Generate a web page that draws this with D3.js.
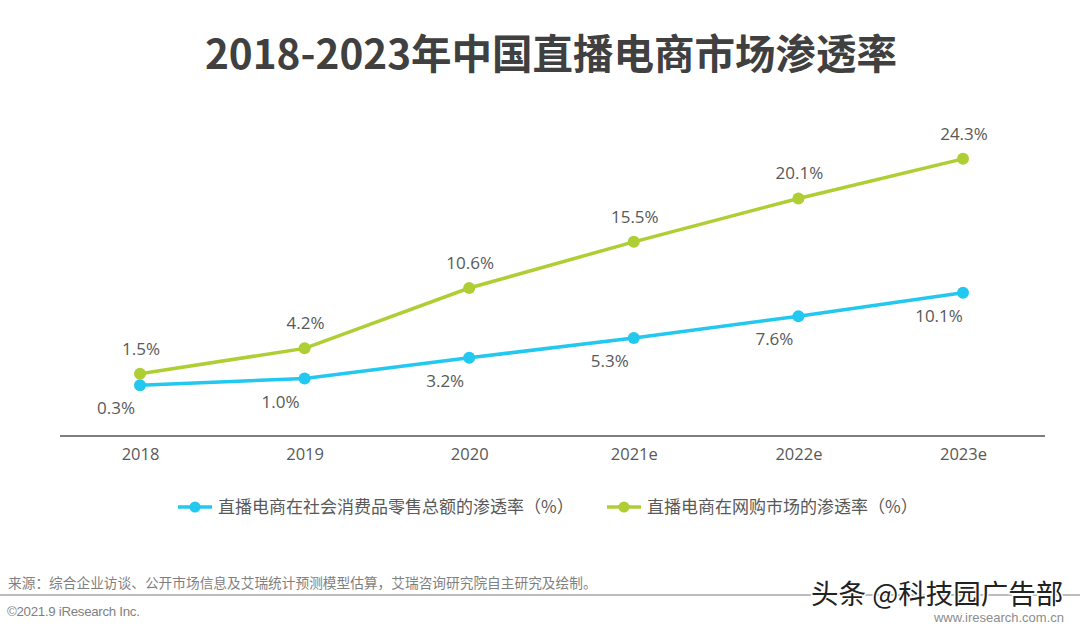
<!DOCTYPE html>
<html><head><meta charset="utf-8">
<script src="https://cdn.jsdelivr.net/npm/d3@7/dist/d3.min.js"></script>
<style>body{margin:0;background:#fff}svg{display:block}</style>
</head><body>
<svg id="c" width="1080" height="629"></svg>
<script>
const categories = ["2018","2019","2020","2021e","2022e","2023e"];
const seriesNames = ["直播电商在社会消费品零售总额的渗透率（%）","直播电商在网购市场的渗透率（%）"];
const retailShare = [0.3,1.0,3.2,5.3,7.6,10.1];
const onlineShare = [1.5,4.2,10.6,15.5,20.1,24.3];
const colors = ["#22c8ef","#aece34"];

const svg = d3.select("#c");
const font = "'Noto Sans CJK SC','Open Sans',sans-serif";

svg.append("text").attr("x",551).attr("y",69).attr("text-anchor","middle")
  .attr("font-family",font).attr("font-weight","bold").attr("font-size",40.5)
  .attr("fill","#404040").text("2018-2023年中国直播电商市场渗透率");

const x = d3.scalePoint().domain(categories).range([140,963]);
const y = d3.scaleLinear().domain([-5.2,27.4]).range([437,129.6]);

// axis
const ax = svg.append("g").attr("transform","translate(0,436)")
  .call(d3.axisBottom(x).tickSize(0).tickPadding(12));
ax.select(".domain").remove();
ax.append("line").attr("x1",60).attr("x2",1045).attr("stroke","#7f7f7f").attr("stroke-width",2);
ax.selectAll("text").attr("font-family","'Open Sans',sans-serif").attr("font-size",16.5).attr("fill","#595959");

const line = d3.line().x((d,i)=>x(categories[i])).y(d=>y(d));
const series = [retailShare, onlineShare];
series.forEach((s,k)=>{
  svg.append("path").datum(s).attr("d",line).attr("fill","none")
    .attr("stroke",colors[k]).attr("stroke-width",3.5);
  svg.selectAll(null).data(s).enter().append("circle")
    .attr("cx",(d,i)=>x(categories[i])).attr("cy",d=>y(d)).attr("r",6).attr("fill",colors[k]);
  svg.selectAll(null).data(s).enter().append("text")
    .attr("x",(d,i)=>x(categories[i]) + (k===0 ? -24 : 1))
    .attr("y",d=>y(d) + (k===0 ? 29 : -19))
    .attr("text-anchor","middle").attr("font-family","'Open Sans',sans-serif")
    .attr("font-size",17).attr("fill","#595959")
    .text(d=>d.toFixed(1)+"%");
});

// legend
const legX = [178,607];
seriesNames.forEach((n,k)=>{
  const g = svg.append("g").attr("transform",`translate(${legX[k]},507)`);
  g.append("line").attr("x1",0).attr("x2",34).attr("stroke",colors[k]).attr("stroke-width",3.5);
  g.append("circle").attr("cx",17).attr("cy",0).attr("r",5.5).attr("fill",colors[k]);
  g.append("text").attr("x",40).attr("y",6).attr("font-family",font)
    .attr("font-size",17).attr("fill","#595959").text(n);
});

// footer
svg.append("text").attr("x",8).attr("y",588).attr("font-family",font)
  .attr("font-size",13.7).attr("fill","#7f7f7f")
  .text("来源：综合企业访谈、公开市场信息及艾瑞统计预测模型估算，艾瑞咨询研究院自主研究及绘制。");
svg.append("line").attr("x1",0).attr("x2",1080).attr("y1",595).attr("y2",595)
  .attr("stroke","#a6a6a6").attr("stroke-width",1.5);
svg.append("text").attr("x",7).attr("y",616).attr("font-family","'Liberation Sans',Arial,sans-serif")
  .attr("font-size",13.3).attr("fill","#7f7f7f").attr("letter-spacing",-0.3).text("©2021.9 iResearch Inc.");
svg.append("text").attr("x",1064).attr("y",622).attr("text-anchor","end")
  .attr("font-family","'Liberation Sans',Arial,sans-serif")
  .attr("font-size",13).attr("fill","#8c8c8c").text("www.iresearch.com.cn");
svg.append("text").attr("x",811).attr("y",604).attr("font-family",font)
  .attr("font-size",27.5).attr("fill","#222").attr("stroke","#fff").attr("stroke-width",3)
  .attr("paint-order","stroke").text("头条 @科技园广告部");
</script>
</body></html>
